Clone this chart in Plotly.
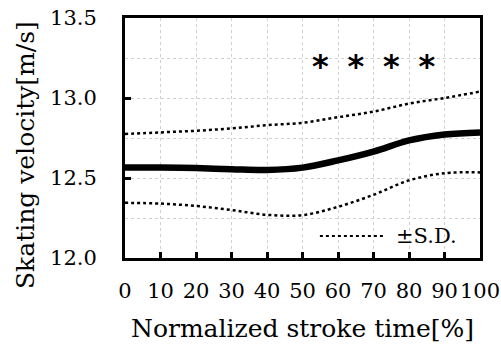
import plotly.graph_objects as go

time_pct = [0, 10, 20, 30, 40, 50, 60, 70, 80, 90, 100]
mean_vel = [12.565, 12.565, 12.562, 12.555, 12.55, 12.565, 12.61, 12.665, 12.735, 12.772, 12.785]
upper_sd = [12.775, 12.785, 12.795, 12.81, 12.83, 12.845, 12.88, 12.915, 12.965, 13.0, 13.04]
lower_sd = [12.345, 12.34, 12.325, 12.30, 12.27, 12.268, 12.32, 12.395, 12.485, 12.53, 12.535]
sig_x = [55, 65, 75, 85]
sig_y = [13.18, 13.18, 13.18, 13.18]
x_ticks = [0, 10, 20, 30, 40, 50, 60, 70, 80, 90, 100]
y_ticks = [12.0, 12.5, 13.0, 13.5]

FONT = "DejaVu Serif"
GRID = "#d0d0d0"

fig = go.Figure()
for ys in (upper_sd, lower_sd):
    fig.add_trace(go.Scatter(x=time_pct, y=ys, mode="lines",
                             line=dict(color="black", width=2.5, dash="dot", shape="spline"),
                             showlegend=False, hoverinfo="skip"))
fig.add_trace(go.Scatter(x=time_pct, y=mean_vel, mode="lines",
                         line=dict(color="black", width=6.5, shape="spline"),
                         showlegend=False))
fig.add_trace(go.Scatter(x=sig_x, y=sig_y, mode="text", text=["*"] * len(sig_x),
                         textposition="middle center",
                         textfont=dict(family="DejaVu Sans", size=32, color="black", weight="bold"),
                         showlegend=False))

# legend sample
fig.add_shape(type="line", xref="paper", yref="paper", x0=0.549, x1=0.732, y0=0.092, y1=0.092,
              line=dict(color="black", width=2, dash="dot"))
fig.add_annotation(xref="paper", yref="paper", x=0.757, y=0.092, text="±S.D.", showarrow=False,
                   xanchor="left", yanchor="middle", font=dict(family=FONT, size=21, color="black"))

# y-axis title
fig.add_annotation(xref="paper", yref="paper", x=-0.2817, y=0.429, text="Skating velocity[m/s]",
                   showarrow=False, textangle=-90, xanchor="center", yanchor="middle",
                   font=dict(family=FONT, size=25, color="black"))

axis_common = dict(showline=True, linecolor="black", linewidth=3, mirror=True,
                   ticks="inside", ticklen=6, tickwidth=2.5, tickcolor="black",
                   showgrid=True, gridcolor=GRID, griddash="dot", gridwidth=1.3,
                   zeroline=False, automargin=False,
                   tickfont=dict(family=FONT, size=21, color="black"))

fig.update_xaxes(range=[0, 100], tickvals=x_ticks, ticktext=[str(v) for v in x_ticks],
                 title=dict(text="Normalized stroke time[%]", font=dict(family=FONT, size=25, color="black"), standoff=18),
                 ticklabelstandoff=12, **axis_common)
fig.update_yaxes(range=[12.0, 13.5], tickvals=y_ticks, ticktext=[f"{v:.1f}" for v in y_ticks],
                 minor=dict(dtick=0.25, tick0=12.0, showgrid=True, gridcolor=GRID, griddash="dot", gridwidth=1.3, ticks=""),
                 ticklabelstandoff=21, **axis_common)

fig.update_layout(width=501, height=345, margin=dict(l=125, r=21, t=18, b=87),
                  plot_bgcolor="white", paper_bgcolor="white")
fig.write_html("out.html")
